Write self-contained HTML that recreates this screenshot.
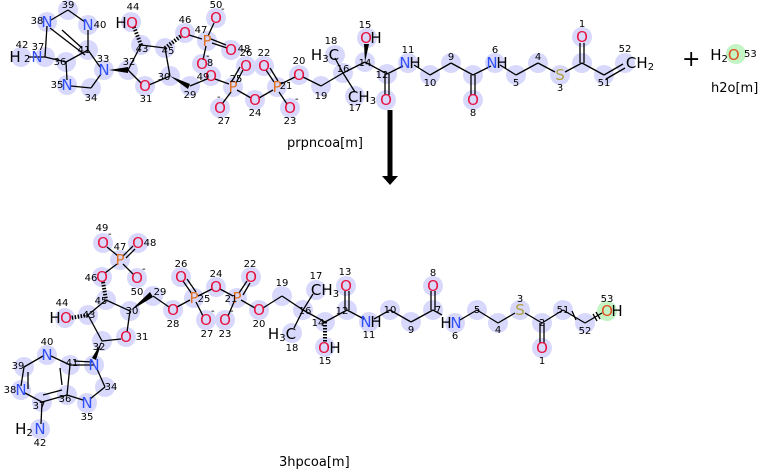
<!DOCTYPE html>
<html><head><meta charset="utf-8"><style>
html,body{margin:0;padding:0;background:#fff;}
svg{display:block}
text{font-family:"DejaVu Sans","Liberation Sans",sans-serif;}
.n{font-size:10px;fill:#000;text-anchor:middle}
.a{font-size:15px;text-anchor:middle;dominant-baseline:central}
.m{font-size:10px;fill:#000}
.O{fill:#e8123c}.N{fill:#3050f8}.P{fill:#e07020}.S{fill:#b0a040}.C{fill:#000}
circle{fill:#d8d8fc}
line{stroke:#000;stroke-width:1.3}
</style></head><body>
<svg width="781" height="469" viewBox="0 0 781 469" xmlns="http://www.w3.org/2000/svg">
<g>
<circle cx="21" cy="57" r="10"/><circle cx="45" cy="57" r="10"/><circle cx="47" cy="22" r="10"/><circle cx="68" cy="10" r="10"/><circle cx="88" cy="25" r="10"/><circle cx="88" cy="50" r="10"/><circle cx="66" cy="62" r="10"/><circle cx="67" cy="85" r="10"/><circle cx="91" cy="88" r="10"/><circle cx="104" cy="70" r="10"/><circle cx="128" cy="70" r="10"/><circle cx="145" cy="86" r="10"/><circle cx="170" cy="76" r="10"/><circle cx="165" cy="48" r="10"/><circle cx="141" cy="45" r="10"/><circle cx="131" cy="22" r="10"/><circle cx="185" cy="33" r="10"/><circle cx="207" cy="41" r="10"/><circle cx="231" cy="50" r="10"/><circle cx="216" cy="18" r="10"/><circle cx="202" cy="64" r="10"/><circle cx="190" cy="86" r="10"/><circle cx="211" cy="76" r="10"/><circle cx="233" cy="87" r="10"/><circle cx="246" cy="66" r="10"/><circle cx="220" cy="108" r="10"/><circle cx="255" cy="100" r="10"/><circle cx="277" cy="87" r="10"/><circle cx="264" cy="66" r="10"/><circle cx="290" cy="108" r="10"/><circle cx="299" cy="75" r="10"/><circle cx="321" cy="86" r="10"/><circle cx="343" cy="73" r="10"/><circle cx="335" cy="55" r="10"/><circle cx="355" cy="96" r="10"/><circle cx="365" cy="62" r="10"/><circle cx="367" cy="38" r="10"/><circle cx="387" cy="74" r="10"/><circle cx="386" cy="100" r="10"/><circle cx="408" cy="63" r="10"/><circle cx="430" cy="75" r="10"/><circle cx="451" cy="63" r="10"/><circle cx="473" cy="75" r="10"/><circle cx="473" cy="100" r="10"/><circle cx="495" cy="63" r="10"/><circle cx="516" cy="75" r="10"/><circle cx="538" cy="63" r="10"/><circle cx="560" cy="75" r="10"/><circle cx="582" cy="63" r="10"/><circle cx="582" cy="37" r="10"/><circle cx="604" cy="75" r="10"/><circle cx="625" cy="63" r="10"/>
<circle cx="736" cy="54" r="10" style="fill:#c4f4c4"/>
</g>
<g>
<line x1="28" y1="57" x2="45" y2="57"/><line x1="45" y1="57" x2="47" y2="26"/><line x1="51" y1="20" x2="68" y2="10"/><line x1="68" y1="10" x2="85" y2="22"/><line x1="88" y1="30" x2="88" y2="50"/><line x1="88" y1="50" x2="66" y2="62"/><line x1="66" y1="62" x2="45" y2="57"/><line x1="66" y1="62" x2="67" y2="80"/><line x1="71" y1="86" x2="91" y2="88"/><line x1="91" y1="88" x2="101" y2="74"/><line x1="100" y1="67" x2="88" y2="50"/><line x1="62" y1="30" x2="82" y2="48"/><line x1="50" y1="28" x2="85" y2="55"/>
<polygon points="109,70 128,67 128,73" fill="#000"/>
<line x1="128" y1="70" x2="141" y2="83"/><line x1="149" y1="85" x2="170" y2="76"/><line x1="170" y1="76" x2="165" y2="48"/><line x1="165" y1="48" x2="141" y2="45"/><line x1="141" y1="45" x2="128" y2="70"/>
<line x1="141" y1="45" x2="134" y2="27" stroke-dasharray="1.5,1.5" style="stroke-width:4"/>
<line x1="165" y1="48" x2="181" y2="36" stroke-dasharray="1.5,1.5" style="stroke-width:4"/>
<polygon points="170,76 190,84 188,89" fill="#000"/>
<line x1="190" y1="86" x2="207" y2="79"/><line x1="215" y1="79" x2="229" y2="84"/>
<line x1="189" y1="35" x2="202" y2="39"/><line x1="212" y1="43" x2="227" y2="48"/><line x1="211" y1="39" x2="226" y2="45"/><line x1="208" y1="36" x2="214" y2="23"/><line x1="206" y1="46" x2="203" y2="60"/>
<line x1="236" y1="83" x2="243" y2="70"/><line x1="232" y1="81" x2="240" y2="67"/><line x1="231" y1="92" x2="222" y2="104"/><line x1="237" y1="90" x2="251" y2="98"/><line x1="259" y1="98" x2="273" y2="90"/>
<line x1="274" y1="82" x2="266" y2="70"/><line x1="278" y1="81" x2="270" y2="68"/><line x1="279" y1="92" x2="287" y2="104"/><line x1="281" y1="84" x2="295" y2="77"/>
<line x1="303" y1="77" x2="321" y2="86"/><line x1="321" y1="86" x2="343" y2="73"/><line x1="343" y1="73" x2="335" y2="58"/><line x1="343" y1="73" x2="355" y2="92"/><line x1="343" y1="73" x2="365" y2="62"/>
<polygon points="365,62 364,44 369,44" fill="#000"/>
<line x1="365" y1="62" x2="387" y2="74"/><line x1="385" y1="74" x2="385" y2="95"/><line x1="389" y1="74" x2="389" y2="95"/><line x1="387" y1="74" x2="403" y2="66"/>
<line x1="414" y1="65" x2="430" y2="75"/><line x1="430" y1="75" x2="451" y2="63"/><line x1="451" y1="63" x2="473" y2="75"/><line x1="471" y1="75" x2="471" y2="95"/><line x1="475" y1="75" x2="475" y2="95"/><line x1="473" y1="75" x2="491" y2="66"/>
<line x1="500" y1="65" x2="516" y2="75"/><line x1="516" y1="75" x2="538" y2="63"/><line x1="538" y1="63" x2="555" y2="72"/><line x1="565" y1="72" x2="582" y2="63"/><line x1="580" y1="63" x2="580" y2="43"/><line x1="584" y1="63" x2="584" y2="43"/><line x1="582" y1="63" x2="604" y2="75"/><line x1="604" y1="75" x2="623" y2="64"/><line x1="606" y1="79" x2="625" y2="68"/>
</g>
<g>
<text class="a C" x="15" y="57">H</text><text x="24" y="62" style="font-size:10px">2</text><text class="a N" x="37" y="57">N</text>
<text class="a N" x="47" y="22">N</text><text class="a N" x="88" y="25">N</text><text class="a N" x="67" y="85">N</text><text class="a N" x="104" y="70">N</text>
<text class="a C" x="121" y="23">H</text><text class="a O" x="132" y="23">O</text>
<text class="a O" x="145" y="86">O</text><text class="a O" x="185" y="33">O</text><text class="a P" x="207" y="41">P</text><text class="a O" x="231" y="50">O</text><text class="a O" x="216" y="18">O</text><text class="a O" x="202" y="64">O</text><text class="a O" x="211" y="76">O</text>
<text class="a P" x="233" y="87">P</text><text class="a O" x="246" y="66">O</text><text class="a O" x="220" y="108">O</text><text class="a O" x="255" y="100">O</text><text class="a P" x="277" y="87">P</text><text class="a O" x="264" y="66">O</text><text class="a O" x="290" y="108">O</text><text class="a O" x="299" y="75">O</text>
<text class="m" x="221" y="12">-</text><text class="m" x="206" y="59">-</text><text class="m" x="217" y="100">-</text><text class="m" x="295" y="102">-</text>
<text class="a C" x="325" y="55">H<tspan dy="4" style="font-size:10px">3</tspan><tspan dy="-4">C</tspan></text>
<text class="a C" x="362" y="97">CH<tspan dy="4" style="font-size:10px">3</tspan></text>
<text class="a O" x="366" y="38">O</text><text class="a C" x="376" y="38">H</text>
<text class="a O" x="386" y="100">O</text>
<text class="a N" x="405" y="63">N</text><text class="a C" x="415" y="63">H</text>
<text class="a O" x="473" y="100">O</text>
<text class="a N" x="492" y="63">N</text><text class="a C" x="502" y="63">H</text>
<text class="a S" x="560" y="75">S</text><text class="a O" x="582" y="37">O</text>
<text class="a C" x="640" y="63">CH<tspan dy="4" style="font-size:10px">2</tspan></text>
<text class="n" x="22" y="48">42</text><text class="n" x="38" y="50">37</text><text class="n" x="37" y="24">38</text><text class="n" x="68" y="8">39</text><text class="n" x="100" y="28">40</text><text class="n" x="84" y="53">41</text><text class="n" x="60" y="65">36</text><text class="n" x="57" y="88">35</text><text class="n" x="91" y="101">34</text><text class="n" x="103" y="62">33</text><text class="n" x="129" y="65">32</text><text class="n" x="146" y="102">31</text><text class="n" x="164" y="80">30</text><text class="n" x="168" y="54">45</text><text class="n" x="142" y="52">43</text><text class="n" x="133" y="10">44</text><text class="n" x="185" y="23">46</text><text class="n" x="201" y="33">47</text><text class="n" x="244" y="52">48</text><text class="n" x="216" y="8">50</text><text class="n" x="210" y="66">8</text><text class="n" x="203" y="80">49</text><text class="n" x="190" y="98">29</text><text class="n" x="236" y="82">25</text><text class="n" x="246" y="56">26</text><text class="n" x="224" y="124">27</text><text class="n" x="255" y="116">24</text><text class="n" x="286" y="89">21</text><text class="n" x="264" y="56">22</text><text class="n" x="290" y="124">23</text><text class="n" x="299" y="64">20</text><text class="n" x="321" y="99">19</text><text class="n" x="343" y="72">16</text><text class="n" x="331" y="44">18</text><text class="n" x="355" y="111">17</text><text class="n" x="365" y="66">14</text><text class="n" x="365" y="28">15</text><text class="n" x="382" y="78">12</text><text class="n" x="408" y="53">11</text><text class="n" x="430" y="86">10</text><text class="n" x="451" y="60">9</text><text class="n" x="473" y="116">8</text><text class="n" x="495" y="53">6</text><text class="n" x="516" y="86">5</text><text class="n" x="538" y="60">4</text><text class="n" x="560" y="91">3</text><text class="n" x="582" y="27">1</text><text class="n" x="604" y="86">51</text><text class="n" x="625" y="52">52</text>
<text x="682" y="66" style="font-size:22px">+</text>
<text class="a C" x="725" y="55">H<tspan dy="4" style="font-size:10px">2</tspan><tspan dy="-4" class="O" style="fill:#e05020">O</tspan></text><text x="744" y="57" style="font-size:10px">53</text>
<text x="711" y="92" style="font-size:13px">h2o[m]</text>
<text x="287" y="147" style="font-size:13px">prpncoa[m]</text>
</g>
<rect x="387.5" y="110" width="5" height="68" fill="#000"/>
<polygon points="382,176 398,176 390,185" fill="#000"/>

<g>
<circle cx="103" cy="243" r="10"/><circle cx="138" cy="243" r="10"/><circle cx="120" cy="260" r="10"/><circle cx="137" cy="278" r="10"/><circle cx="102" cy="277" r="10"/><circle cx="106" cy="300" r="10"/><circle cx="88" cy="315" r="10"/><circle cx="65" cy="318" r="10"/><circle cx="130" cy="311" r="10"/><circle cx="126" cy="337" r="10"/><circle cx="102" cy="341" r="10"/><circle cx="94" cy="365" r="10"/><circle cx="70" cy="365" r="10"/><circle cx="47" cy="355" r="10"/><circle cx="24" cy="367" r="10"/><circle cx="21" cy="390" r="10"/><circle cx="42" cy="402" r="10"/><circle cx="67" cy="395" r="10"/><circle cx="87" cy="403" r="10"/><circle cx="105" cy="387" r="10"/><circle cx="40" cy="429" r="10"/>
<circle cx="153" cy="296" r="10"/><circle cx="173" cy="310" r="10"/><circle cx="194" cy="298" r="10"/><circle cx="181" cy="277" r="10"/><circle cx="206" cy="320" r="10"/><circle cx="216" cy="287" r="10"/><circle cx="237" cy="298" r="10"/><circle cx="251" cy="277" r="10"/><circle cx="225" cy="320" r="10"/><circle cx="259" cy="310" r="10"/><circle cx="282" cy="296" r="10"/><circle cx="303" cy="310" r="10"/><circle cx="316" cy="290" r="10"/><circle cx="292" cy="333" r="10"/><circle cx="325" cy="322" r="10"/><circle cx="325" cy="347" r="10"/><circle cx="347" cy="310" r="10"/><circle cx="346" cy="286" r="10"/><circle cx="369" cy="322" r="10"/>
<circle cx="390" cy="310" r="10"/><circle cx="411" cy="322" r="10"/><circle cx="433" cy="310" r="10"/><circle cx="433" cy="286" r="10"/><circle cx="455" cy="323" r="10"/><circle cx="477" cy="310" r="10"/><circle cx="498" cy="323" r="10"/><circle cx="520" cy="310" r="10"/><circle cx="542" cy="323" r="10"/><circle cx="542" cy="348" r="10"/><circle cx="563" cy="310" r="10"/><circle cx="585" cy="323" r="10"/>
<circle cx="607" cy="311" r="10" style="fill:#c4f4c4"/>
</g>
<g>
<line x1="107" y1="247" x2="118" y2="256"/><line x1="123" y1="256" x2="133" y2="246"/><line x1="126" y1="258" x2="135" y2="249"/><line x1="123" y1="264" x2="133" y2="274"/><line x1="117" y1="264" x2="105" y2="273"/>
<line x1="103" y1="282" x2="106" y2="300" stroke-dasharray="1.5,1.5" style="stroke-width:4"/>
<line x1="106" y1="300" x2="130" y2="311"/><line x1="106" y1="300" x2="88" y2="315"/>
<line x1="88" y1="315" x2="70" y2="318" stroke-dasharray="1.5,1.5" style="stroke-width:4"/>
<line x1="88" y1="315" x2="102" y2="341"/><line x1="130" y1="311" x2="127" y2="332"/><line x1="121" y1="339" x2="102" y2="341"/>
<polygon points="130,311 150,292 153,297" fill="#000"/>
<polygon points="102,341 96,360 92,358" fill="#000"/>
<line x1="153" y1="296" x2="169" y2="307"/><line x1="177" y1="307" x2="190" y2="300"/>
<line x1="192" y1="294" x2="183" y2="281"/><line x1="196" y1="292" x2="187" y2="279"/><line x1="196" y1="302" x2="203" y2="316"/><line x1="198" y1="296" x2="212" y2="289"/><line x1="220" y1="289" x2="233" y2="296"/>
<line x1="239" y1="293" x2="247" y2="281"/><line x1="243" y1="295" x2="250" y2="283"/><line x1="234" y1="302" x2="228" y2="316"/><line x1="241" y1="300" x2="255" y2="308"/>
<line x1="263" y1="308" x2="282" y2="296"/><line x1="282" y1="296" x2="303" y2="310"/><line x1="303" y1="310" x2="313" y2="294"/><line x1="303" y1="310" x2="294" y2="328"/><line x1="303" y1="310" x2="325" y2="322"/>
<line x1="325" y1="322" x2="325" y2="342" stroke-dasharray="1.5,1.5" style="stroke-width:4"/>
<line x1="325" y1="322" x2="347" y2="310"/><line x1="345" y1="310" x2="345" y2="291"/><line x1="349" y1="310" x2="349" y2="291"/><line x1="347" y1="310" x2="364" y2="319"/>
<line x1="374" y1="319" x2="390" y2="310"/><line x1="390" y1="310" x2="411" y2="322"/><line x1="411" y1="322" x2="433" y2="310"/><line x1="431" y1="310" x2="431" y2="291"/><line x1="435" y1="310" x2="435" y2="291"/><line x1="433" y1="310" x2="442" y2="315"/>
<line x1="460" y1="320" x2="477" y2="310"/><line x1="477" y1="310" x2="498" y2="323"/><line x1="498" y1="323" x2="515" y2="313"/><line x1="525" y1="313" x2="542" y2="323"/><line x1="540" y1="323" x2="540" y2="343"/><line x1="544" y1="323" x2="544" y2="343"/><line x1="542" y1="323" x2="563" y2="310"/><line x1="563" y1="310" x2="585" y2="323"/><line x1="585" y1="323" x2="602" y2="313"/>
<line x1="572" y1="311" x2="576" y2="320"/><line x1="593" y1="314" x2="597" y2="321"/><line x1="596" y1="312" x2="600" y2="319"/>
<line x1="94" y1="365" x2="70" y2="365"/><line x1="93" y1="362" x2="74" y2="361"/><line x1="70" y1="365" x2="51" y2="356"/><line x1="43" y1="356" x2="24" y2="367"/><line x1="24" y1="367" x2="21" y2="386"/><line x1="25" y1="393" x2="42" y2="402"/><line x1="42" y1="402" x2="67" y2="395"/><line x1="67" y1="395" x2="70" y2="365"/><line x1="67" y1="395" x2="83" y2="400"/><line x1="90" y1="399" x2="105" y2="387"/><line x1="105" y1="387" x2="97" y2="369"/><line x1="42" y1="402" x2="41" y2="424"/>
<line x1="28" y1="372" x2="28" y2="389"/><line x1="43" y1="395" x2="62" y2="390"/><line x1="60" y1="368" x2="62" y2="385"/>
</g>
<g>
<text class="a O" x="103" y="243">O</text><text class="a O" x="138" y="243">O</text><text class="a P" x="120" y="260">P</text><text class="a O" x="137" y="278">O</text><text class="a O" x="102" y="277">O</text>
<text class="m" x="108" y="237">-</text><text class="m" x="142" y="272">-</text><text class="m" x="211" y="314">-</text><text class="m" x="230" y="314">-</text>
<text class="a C" x="55" y="318">H</text><text class="a O" x="66" y="318">O</text><text class="a O" x="126" y="337">O</text>
<text class="a N" x="94" y="365">N</text><text class="a N" x="47" y="355">N</text><text class="a N" x="21" y="390">N</text><text class="a N" x="87" y="403">N</text>
<text class="a C" x="24" y="429">H<tspan dy="4" style="font-size:10px">2</tspan></text><text class="a N" x="40" y="429">N</text>
<text class="a O" x="173" y="310">O</text><text class="a P" x="194" y="298">P</text><text class="a O" x="181" y="277">O</text><text class="a O" x="206" y="320">O</text><text class="a O" x="216" y="287">O</text><text class="a P" x="237" y="298">P</text><text class="a O" x="251" y="277">O</text><text class="a O" x="225" y="320">O</text><text class="a O" x="259" y="310">O</text>
<text class="a C" x="325" y="290">CH<tspan dy="4" style="font-size:10px">3</tspan></text>
<text class="a C" x="282" y="334">H<tspan dy="4" style="font-size:10px">3</tspan><tspan dy="-4">C</tspan></text>
<text class="a O" x="324" y="348">O</text><text class="a C" x="335" y="348">H</text>
<text class="a O" x="346" y="286">O</text>
<text class="a N" x="366" y="322">N</text><text class="a C" x="376" y="322">H</text>
<text class="a O" x="433" y="286">O</text>
<text class="a C" x="446" y="323">H</text><text class="a N" x="456" y="323">N</text>
<text class="a S" x="520" y="310">S</text><text class="a O" x="542" y="348">O</text>
<text class="a" x="607" y="311" style="fill:#e05020">O</text><text class="a C" x="617" y="311">H</text>
<text class="n" x="102" y="231">49</text><text class="n" x="120" y="250">47</text><text class="n" x="150" y="246">48</text><text class="n" x="137" y="295">50</text><text class="n" x="91" y="281">46</text><text class="n" x="101" y="304">45</text><text class="n" x="89" y="318">43</text><text class="n" x="62" y="306">44</text><text class="n" x="132" y="314">30</text><text class="n" x="142" y="340">31</text><text class="n" x="99" y="350">32</text><text class="n" x="47" y="345">40</text><text class="n" x="18" y="369">39</text><text class="n" x="10" y="393">38</text><text class="n" x="39" y="409">37</text><text class="n" x="65" y="402">36</text><text class="n" x="87" y="420">35</text><text class="n" x="111" y="390">34</text><text class="n" x="72" y="366">41</text><text class="n" x="40" y="446">42</text>
<text class="n" x="160" y="295">29</text><text class="n" x="173" y="327">28</text><text class="n" x="181" y="267">26</text><text class="n" x="204" y="302">25</text><text class="n" x="207" y="337">27</text><text class="n" x="225" y="337">23</text><text class="n" x="216" y="277">24</text><text class="n" x="231" y="302">21</text><text class="n" x="250" y="267">22</text><text class="n" x="259" y="327">20</text><text class="n" x="282" y="286">19</text><text class="n" x="305" y="314">16</text><text class="n" x="316" y="279">17</text><text class="n" x="292" y="351">18</text><text class="n" x="318" y="326">14</text><text class="n" x="325" y="364">15</text><text class="n" x="342" y="314">12</text><text class="n" x="345" y="275">13</text><text class="n" x="369" y="338">11</text>
<text class="n" x="390" y="313">10</text><text class="n" x="411" y="333">9</text><text class="n" x="438" y="313">7</text><text class="n" x="433" y="276">8</text><text class="n" x="455" y="339">6</text><text class="n" x="477" y="313">5</text><text class="n" x="498" y="333">4</text><text class="n" x="520" y="302">3</text><text class="n" x="542" y="326">2</text><text class="n" x="542" y="364">1</text><text class="n" x="563" y="313">51</text><text class="n" x="585" y="334">52</text><text class="n" x="607" y="302">53</text>
<text x="279" y="466" style="font-size:13px">3hpcoa[m]</text>
</g>
</svg>
</body></html>
